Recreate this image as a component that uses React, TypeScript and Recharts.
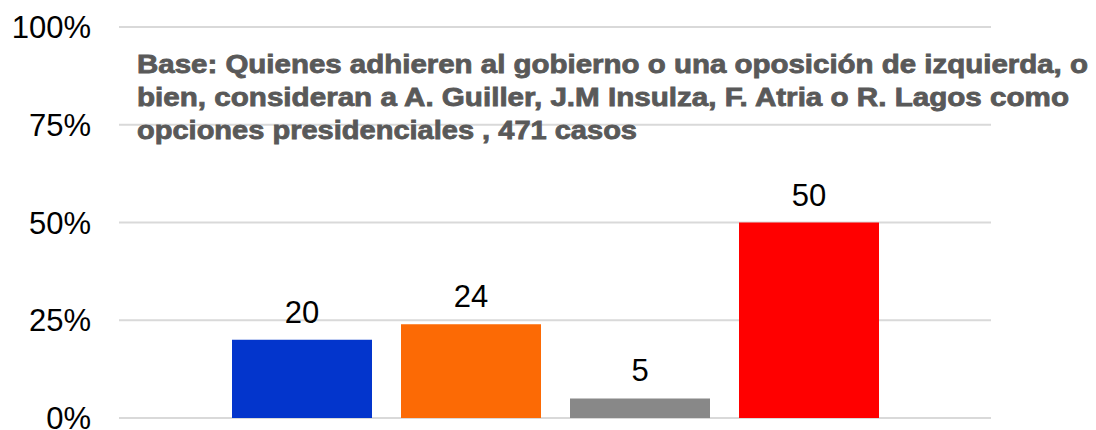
import React from 'react';
import { BarChart, Bar, XAxis, YAxis, CartesianGrid, Cell, LabelList } from 'recharts';

// Values (%)
const categories = ['Opción 1', 'Opción 2', 'Opción 3', 'Opción 4'];
const values = [20, 24, 5, 50];
const barColors = ['#0335CC', '#FC6A05', '#888888', '#FF0000'];
const yTicks = [0, 25, 50, 75, 100];
const noteLines = [
  'Base: Quienes adhieren al gobierno o una oposición de izquierda, o',
  'bien, consideran a A. Guiller, J.M Insulza, F. Atria o R. Lagos como',
  'opciones presidenciales , 471 casos',
];
const noteWidths = [951, 932, 500];

const chartData = categories.map((name, i) => ({ name, value: values[i], color: barColors[i] }));

const FONT = '"Liberation Sans", Arial, sans-serif';

const App: React.FC = () => {
  return (
    <div style={{ position: 'absolute', left: 0, top: 0, width: 1096, height: 430, background: '#fff' }}>
      <BarChart
        width={1096}
        height={430}
        data={chartData}
        margin={{ top: 27, right: 105, left: 0, bottom: 12 }}
      >
        <CartesianGrid vertical={false} stroke="#d9d9d9" strokeWidth={2} />
        <XAxis dataKey="name" hide padding={{ left: 98, right: 98 }} />
        <YAxis
          width={119}
          domain={[0, 100]}
          ticks={yTicks}
          interval={0}
          tickFormatter={(v) => `${v}%`}
          axisLine={false}
          tickLine={false}
          tickSize={0}
          tickMargin={28}
          tick={{ fontSize: 31, fill: '#000', fontFamily: FONT }}
        />
        <Bar dataKey="value" barSize={140} isAnimationActive={false}>
          {chartData.map((entry, index) => (
            <Cell key={`cell-${index}`} fill={entry.color} />
          ))}
          <LabelList
            dataKey="value"
            position="top"
            offset={17}
            fill="#000"
            fontSize={31}
            fontFamily={FONT}
          />
        </Bar>
      </BarChart>
      {/* note text sits over the grid, like in the original */}
      <svg width={1096} height={430} style={{ position: 'absolute', left: 0, top: 0, pointerEvents: 'none' }}>
        {noteLines.map((line, i) => (
          <text
            key={i}
            x={137}
            y={73 + i * 33}
            fontSize={25}
            fontWeight="bold"
            fontFamily={FONT}
            fill="#595959"
            stroke="#595959"
            strokeWidth={0.8}
            textLength={noteWidths[i]}
            lengthAdjust="spacingAndGlyphs"
          >
            {line}
          </text>
        ))}
      </svg>
    </div>
  );
};

export default App;
